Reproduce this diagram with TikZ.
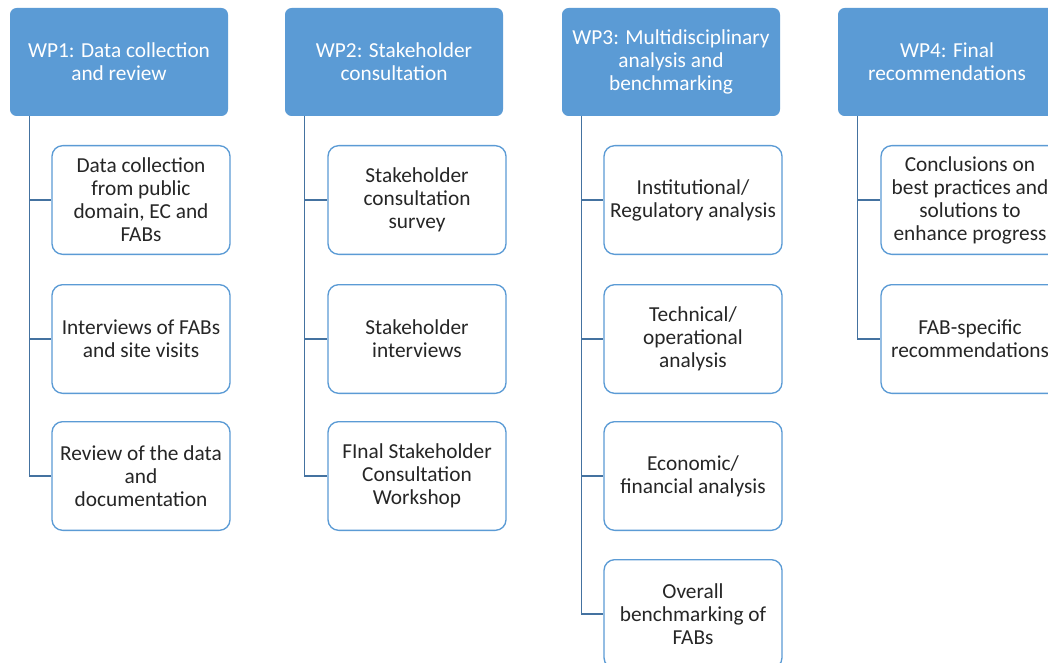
\documentclass[tikz,border=0pt]{standalone}
\usepackage{fontspec}
\setmainfont{Carlito}
\usepackage{tikz}
\usetikzlibrary{positioning}

\definecolor{wpblue}{RGB}{91,155,213}
\definecolor{wpline}{RGB}{68,114,160}
\definecolor{wptext}{RGB}{38,38,38}

\begin{document}
\begin{tikzpicture}[x=0.75pt, y=-0.75pt,
    wp/.style={rectangle, rounded corners=5pt, fill=wpblue, text=white,
      minimum width=163.5pt, minimum height=81pt, align=center,
      font=\fontsize{16}{17.25}\selectfont, inner sep=2pt},
    task/.style={rectangle, rounded corners=8pt, draw=wpblue, line width=1pt,
      fill=white, text=wptext, minimum width=133.5pt, minimum height=81.5pt,
      align=center, font=\fontsize{16}{17.25}\selectfont, inner sep=2pt},
    link/.style={draw=wpline, line width=1pt}]
%%% work packages %%%

      \useasboundingbox (0,0) rectangle (1048,663);
      \fill[white] (0,0) rectangle (1048,663);
      \clip (0,0) rectangle (1048,663);

      %% WP1
      \node[wp] (wp1) at (119,62) {WP1: Data collection\\ and review};
      \node[task] (wp1a) at (141,200) {Data collection\\ from public\\ domain, EC and\\ FABs};
      \node[task] (wp1b) at (141,339) {Interviews of FABs\\ and site visits};
      \node[task] (wp1c) at (141,476) {Review of the data\\ and\\ documentation};

      %% WP2
      \node[wp] (wp2) at (394,62) {WP2: Stakeholder\\ consultation};
      \node[task] (wp2a) at (417,200) {Stakeholder\\ consultation\\ survey};
      \node[task] (wp2b) at (417,339) {Stakeholder\\ interviews};
      \node[task] (wp2c) at (417,476) {FInal Stakeholder\\ Consultation\\ Workshop};

      %% WP3
      \node[wp] (wp3) at (671,62) {WP3: Multidisciplinary\\ analysis and\\ benchmarking};
      \node[task] (wp3a) at (693,200) {Institutional/\\ Regulatory analysis};
      \node[task] (wp3b) at (693,339) {Technical/\\ operational\\ analysis};
      \node[task] (wp3c) at (693,476) {Economic/\\ financial analysis};
      \node[task] (wp3d) at (693,614) {Overall\\ benchmarking of\\ FABs};

      %% WP4
      \node[wp] (wp4) at (947,62) {WP4: Final\\ recommendations};
      \node[task] (wp4a) at (970,200) {Conclusions on\\ best practices and\\ solutions to\\ enhance progress};
      \node[task] (wp4b) at (970,339) {FAB-specific\\ recommendations};

      %% connectors
      \draw[link] ([xshift=15pt]wp1.south west) |- (wp1a.west);
      \draw[link] ([xshift=15pt]wp1.south west) |- (wp1b.west);
      \draw[link] ([xshift=15pt]wp1.south west) |- (wp1c.west);
      \draw[link] ([xshift=15pt]wp2.south west) |- (wp2a.west);
      \draw[link] ([xshift=15pt]wp2.south west) |- (wp2b.west);
      \draw[link] ([xshift=15pt]wp2.south west) |- (wp2c.west);
      \draw[link] ([xshift=15pt]wp3.south west) |- (wp3a.west);
      \draw[link] ([xshift=15pt]wp3.south west) |- (wp3b.west);
      \draw[link] ([xshift=15pt]wp3.south west) |- (wp3c.west);
      \draw[link] ([xshift=15pt]wp3.south west) |- (wp3d.west);
      \draw[link] ([xshift=15pt]wp4.south west) |- (wp4a.west);
      \draw[link] ([xshift=15pt]wp4.south west) |- (wp4b.west);

\end{tikzpicture}
\end{document}
